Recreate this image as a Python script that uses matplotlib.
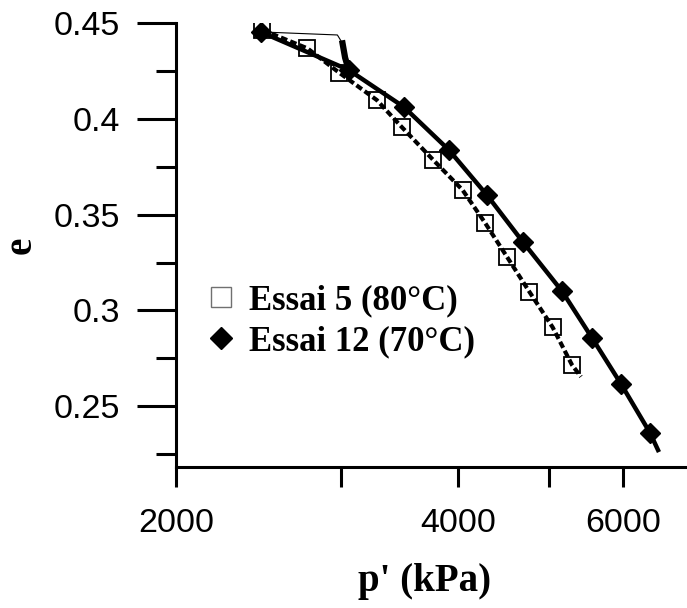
import matplotlib
matplotlib.use("Agg")
import matplotlib.pyplot as plt
from matplotlib.lines import Line2D
from matplotlib.ticker import FixedLocator, NullFormatter

# Essai 5 (80°C): void ratio vs mean effective stress
p_e5 = [2473, 2762, 2986, 3275, 3482, 3762, 4043, 4272, 4509, 4763, 5044, 5290]
e_e5 = [0.4465, 0.4369, 0.4242, 0.4099, 0.3958, 0.3786, 0.3629, 0.3458, 0.3280, 0.3098, 0.2912, 0.2715]
p_e5_end = [5408]
e_e5_end = [0.2653]

# Essai 12 (70°C)
p_e12 = [2462, 3057, 3500, 3910, 4292, 4690, 5161, 5557, 5968, 6409]
e_e12 = [0.4455, 0.4256, 0.4063, 0.3838, 0.3603, 0.3357, 0.3101, 0.2856, 0.2615, 0.2359]
p_e12_end = [6535]
e_e12_end = [0.2270]

# Essai 12: initial excursion of the record
p_e12_init = [2462, 2973, 3011]
e_e12_init = [0.4455, 0.4439, 0.4395]
p_e12_jump = [3011, 3030, 3057]
e_e12_jump = [0.4395, 0.4320, 0.4256]

labels = ["Essai 5 (80°C)", "Essai 12 (70°C)"]
x_major = [2000, 4000, 6000]
x_minor = [3000, 5000]
y_major = [0.25, 0.30, 0.35, 0.40, 0.45]
y_minor = [0.225, 0.275, 0.325, 0.375, 0.425]

W, H = 687, 608
fig = plt.figure(figsize=(W / 100, H / 100), dpi=100)
ax = fig.add_axes([176 / W, 1 - 466.7 / H, (686 - 176) / W, (466.7 - 23.3) / H])

ax.set_xscale("log")
ax.set_xlim(2000, 7000)
ax.set_ylim(0.2183, 0.45)

# curves
ax.plot(p_e5 + p_e5_end, e_e5 + e_e5_end, color="black", lw=3.0,
        linestyle=(0, (1.6, 0.8)), zorder=2)
ax.plot(p_e12 + p_e12_end, e_e12 + e_e12_end, color="black", lw=3.2, zorder=2)
ax.plot(p_e12_init, e_e12_init, color="black", lw=0.8, zorder=2)
ax.plot(p_e12_jump, e_e12_jump, color="black", lw=4.5, zorder=2)

# markers
ax.plot(p_e5, e_e5, linestyle="none", marker="s", ms=11.5, mfc="none",
        mec="black", mew=1.3, zorder=3)
ax.plot(p_e12, e_e12, linestyle="none", marker="D", ms=10, mfc="black",
        mec="black", mew=1, zorder=4)

for s in ["top", "right"]:
    ax.spines[s].set_visible(False)
for s in ["left", "bottom"]:
    ax.spines[s].set_linewidth(2.2)

ax.xaxis.set_major_locator(FixedLocator(x_major))
ax.xaxis.set_minor_locator(FixedLocator(x_minor))
ax.set_xticklabels([str(v) for v in x_major])
ax.xaxis.set_minor_formatter(NullFormatter())
ax.yaxis.set_major_locator(FixedLocator(y_major))
ax.yaxis.set_minor_locator(FixedLocator(y_minor))
ax.set_yticklabels(["0.25", "0.3", "0.35", "0.4", "0.45"])

for lab in ax.get_xticklabels() + ax.get_yticklabels():
    lab.set_fontfamily("Liberation Sans")
    lab.set_fontsize(24.5)

ax.tick_params(axis="x", which="both", direction="out", length=14.4, width=2.2, pad=15.5)
ax.tick_params(axis="y", which="major", direction="out", length=28, width=2.2, pad=12)
ax.tick_params(axis="y", which="minor", direction="out", length=14.4, width=2.2)

label_font = {"family": "Liberation Serif", "weight": "bold", "size": 28}
ax.set_xlabel("p' (kPa)", fontdict=label_font)
ax.xaxis.set_label_coords(0.488, -0.217)
ax.set_ylabel("e", fontdict=label_font, labelpad=10)

handles = [
    Line2D([], [], linestyle="none", marker="s", ms=14, mfc="white", mec="#707070", mew=1.0),
    Line2D([], [], linestyle="none", marker="D", ms=11.5, mfc="black", mec="black"),
]
ax.legend(handles, labels, loc="center left", bbox_to_anchor=(0.055, 0.328),
          frameon=False, prop={"family": "Liberation Serif", "weight": "bold", "size": 25},
          handlelength=1.0, handletextpad=0.3, labelspacing=0.22, borderpad=0,
          borderaxespad=0)

fig.savefig("out.png", dpi=100)
